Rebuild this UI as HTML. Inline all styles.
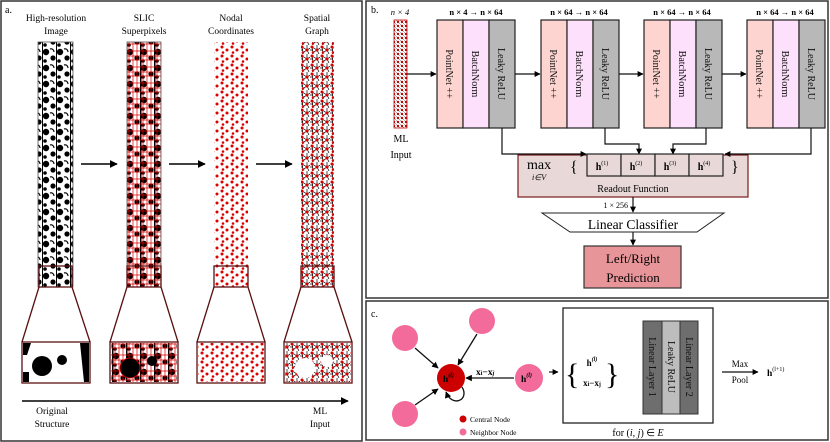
<!DOCTYPE html>
<html><head><meta charset="utf-8"><style>
body{margin:0;background:#fff}
svg{display:block;font-family:"Liberation Serif",serif}
</style></head><body>
<svg width="830" height="442" viewBox="0 0 830 442" xmlns="http://www.w3.org/2000/svg">
<defs>
<pattern id="p1" width="14" height="16" patternUnits="userSpaceOnUse">
<rect width="14" height="16" fill="#fff"/>
<circle cx="4" cy="4" r="3.2" fill="#000"/><circle cx="11" cy="10" r="2.6" fill="#000"/><circle cx="3" cy="13" r="1.8" fill="#000"/><path d="M8 1a3 3 0 0 1 4 3" stroke="#000" stroke-width="1.2" fill="none"/><rect x="0" y="0" width="1" height="16" fill="#000"/>
</pattern>
<pattern id="p2" width="14" height="16" patternUnits="userSpaceOnUse">
<rect width="14" height="16" fill="#fff"/>
<circle cx="4" cy="4" r="3.2" fill="#000"/><circle cx="11" cy="10" r="2.6" fill="#000"/><circle cx="3" cy="13" r="1.8" fill="#000"/><rect x="0" y="0" width="1.5" height="16" fill="#000"/>
<path d="M0 3H14M0 8H14M0 12H14M3 0V16M7 0V16M11 0V16" stroke="#d00" stroke-width="0.7"/>
</pattern>
<pattern id="p3" width="10" height="9" patternUnits="userSpaceOnUse">
<rect width="10" height="9" fill="#fff"/>
<circle cx="2" cy="2" r="1.5" fill="#d00"/><circle cx="7" cy="5" r="1.5" fill="#d00"/><circle cx="3" cy="7.5" r="1.3" fill="#d00"/>
</pattern>
<pattern id="p4" width="10" height="9" patternUnits="userSpaceOnUse">
<rect width="10" height="9" fill="#fff"/>
<path d="M2 2L7 5L3 7.5L2 2M7 5L12 2M3 7.5L2 11M7 5L9 9M0 5H3M7 5L7 0" stroke="#000" stroke-width="0.7" fill="none"/>
<circle cx="2" cy="2" r="1.5" fill="#d00"/><circle cx="7" cy="5" r="1.5" fill="#d00"/><circle cx="3" cy="7.5" r="1.3" fill="#d00"/>
</pattern>
<pattern id="p5" width="4" height="4" patternUnits="userSpaceOnUse">
<rect width="4" height="4" fill="#fff"/><circle cx="2" cy="2" r="1.2" fill="#c00"/><path d="M0 0L4 4" stroke="#333" stroke-width="0.4"/>
</pattern>
<marker id="ah" viewBox="0 0 10 10" refX="9" refY="5" markerWidth="5" markerHeight="5" orient="auto"><path d="M0 0L10 5L0 10z" fill="#000"/></marker>
</defs>

<!-- Panel a -->
<rect x="1" y="1" width="361" height="440" fill="#fff" stroke="#333" stroke-width="1.5"/>
<text x="5" y="13" font-size="10">a.</text>
<g font-size="9.5" text-anchor="middle">
<text x="56" y="21">High-resolution</text><text x="56" y="34">Image</text>
<text x="144" y="21">SLIC</text><text x="144" y="34">Superpixels</text>
<text x="231" y="21">Nodal</text><text x="231" y="34">Coordinates</text>
<text x="317" y="21">Spatial</text><text x="317" y="34">Graph</text>
</g>
<rect x="38" y="42" width="35" height="245" fill="url(#p1)" stroke="#555" stroke-width="0.8"/>
<rect x="127" y="42" width="34" height="245" fill="url(#p2)" stroke="#555" stroke-width="0.8"/>
<rect x="214" y="42" width="34" height="245" fill="url(#p3)"/>
<rect x="301" y="42" width="33" height="245" fill="url(#p4)"/>
<g fill="none" stroke="#5a1010" stroke-width="1.3">
<rect x="39" y="266" width="33" height="21"/><path d="M39 287L22 342M72 287L90 342"/><rect x="22" y="342" width="68" height="41"/>
<rect x="127" y="266" width="34" height="21"/><path d="M127 287L110 342M161 287L178 342"/><rect x="110" y="342" width="68" height="41"/>
<rect x="214" y="266" width="34" height="21"/><path d="M214 287L197 342M248 287L265 342"/><rect x="197" y="342" width="68" height="41"/>
<rect x="301" y="266" width="33" height="21"/><path d="M301 287L284 342M334 287L352 342"/><rect x="284" y="342" width="68" height="41"/>
</g>
<g>
<rect x="23" y="343" width="66" height="39" fill="#fff"/>
<circle cx="42" cy="366" r="10" fill="#000"/><circle cx="62" cy="360" r="5" fill="#000"/><path d="M23 343h8l-4 12h-4zM80 343h9v39h-5zM23 372h6v10h-6z" fill="#000"/>
<rect x="111" y="343" width="66" height="39" fill="url(#p2)"/>
<circle cx="130" cy="368" r="10" fill="#000" stroke="#d00" stroke-width="0.8"/><circle cx="152" cy="361" r="5" fill="#000"/>
<rect x="198" y="343" width="66" height="39" fill="url(#p3)"/>
<rect x="285" y="343" width="66" height="39" fill="url(#p4)"/>
<circle cx="305" cy="368" r="10" fill="#fff"/><circle cx="327" cy="361" r="6" fill="#fff"/>
</g>
<g stroke="#000" stroke-width="1.6" marker-end="url(#ah)">
<line x1="81" y1="164" x2="117" y2="164"/><line x1="169" y1="164" x2="205" y2="164"/><line x1="256" y1="164" x2="292" y2="164"/>
<line x1="22" y1="401" x2="348" y2="401"/>
</g>
<g font-size="9.5" text-anchor="middle">
<text x="52" y="414">Original</text><text x="52" y="427">Structure</text>
<text x="320" y="414">ML</text><text x="320" y="427">Input</text>
</g>

<!-- Panel b -->
<rect x="366" y="1" width="462" height="297" fill="#fff" stroke="#333" stroke-width="1.5"/>
<text x="371" y="13" font-size="10">b.</text>
<text x="400" y="15" font-size="8.5" text-anchor="middle" font-style="italic">n × 4</text>
<rect x="394" y="20" width="13" height="108" fill="url(#p5)" stroke="#c00" stroke-width="0.8"/>
<g font-size="10" text-anchor="middle"><text x="401" y="142">ML</text><text x="401" y="158">Input</text></g>
<g font-size="8.5" text-anchor="middle" font-weight="bold">
<text x="476" y="15">n × 4 → n × 64</text><text x="579" y="15">n × 64 → n × 64</text>
<text x="682" y="15">n × 64 → n × 64</text><text x="785" y="15">n × 64 → n × 64</text>
</g>
<g stroke="#222" stroke-width="1.2" font-size="10">
<g id="blk">
<rect x="437" y="20" width="26" height="108" fill="#fdd4cf"/>
<rect x="463" y="20" width="26" height="108" fill="#fde0fc"/>
<rect x="489" y="20" width="26" height="108" fill="#b8b8b8"/>
<g stroke="none" fill="#111" text-anchor="middle">
<text transform="translate(446,74) rotate(90)">PointNet ++</text>
<text transform="translate(472,74) rotate(90)">BatchNorm</text>
<text transform="translate(498,74) rotate(90)">Leaky ReLU</text>
</g>
</g>
<use href="#blk" x="104"/><use href="#blk" x="207"/><use href="#blk" x="310"/>
</g>
<g stroke="#111" stroke-width="1.2" fill="none" marker-end="url(#ah)">
<line x1="407" y1="74" x2="436" y2="74"/><line x1="515" y1="74" x2="540" y2="74"/>
<line x1="619" y1="74" x2="643" y2="74"/><line x1="722" y1="74" x2="746" y2="74"/>
</g>
<rect x="518" y="155" width="230" height="42" fill="#e8d9d8" stroke="#7a1a1a" stroke-width="1.2"/>
<g stroke="#111" stroke-width="1.2" fill="none" marker-end="url(#ah)">
<path d="M502 128V154H586"/><path d="M605 128V144H639V154"/><path d="M706 128V144H673V154"/><path d="M811 128V154H725"/>
</g>
<g stroke="#222" stroke-width="1.2" fill="#e8d9d8">
<rect x="587" y="154" width="34" height="22"/><rect x="621" y="154" width="34" height="22"/>
<rect x="655" y="154" width="34" height="22"/><rect x="689" y="154" width="34" height="22"/>
</g>
<g font-size="10" font-weight="bold" text-anchor="middle">
<text x="602" y="170">h<tspan font-size="6" font-weight="normal" dy="-5">(1)</tspan></text>
<text x="636" y="170">h<tspan font-size="6" font-weight="normal" dy="-5">(2)</tspan></text>
<text x="670" y="170">h<tspan font-size="6" font-weight="normal" dy="-5">(3)</tspan></text>
<text x="704" y="170">h<tspan font-size="6" font-weight="normal" dy="-5">(4)</tspan></text>
</g>
<text x="527" y="169" font-size="14">max</text>
<text x="532" y="180" font-size="8" font-style="italic">i∈V</text>
<text x="570" y="172" font-size="16">{</text><text x="731" y="172" font-size="16">}</text>
<text x="633" y="192" font-size="10" text-anchor="middle">Readout Function</text>
<g stroke="#111" stroke-width="1.2" marker-end="url(#ah)">
<line x1="633" y1="197" x2="633" y2="212"/><line x1="633" y1="232" x2="633" y2="245"/>
</g>
<text x="628" y="208" font-size="8" text-anchor="end">1 × 256</text>
<path d="M542 213H724L697 232H570Z" fill="#fff" stroke="#222" stroke-width="1"/>
<text x="633" y="229" font-size="13.5" text-anchor="middle">Linear Classifier</text>
<rect x="584" y="246" width="97" height="42" fill="#e8959a" stroke="#333" stroke-width="1.2"/>
<g font-size="13" text-anchor="middle"><text x="633" y="263">Left/Right</text><text x="633" y="282">Prediction</text></g>

<!-- Panel c -->
<rect x="366" y="301" width="462" height="139" fill="#fff" stroke="#333" stroke-width="1.5"/>
<text x="371" y="317" font-size="10">c.</text>
<g fill="#f26b9a">
<circle cx="405" cy="338" r="13"/><circle cx="482" cy="321" r="13"/><circle cx="405" cy="414" r="13"/><circle cx="529" cy="378" r="14"/>
</g>
<g stroke="#111" stroke-width="1.3" fill="none" marker-end="url(#ah)">
<line x1="415" y1="348" x2="438" y2="368"/><line x1="477" y1="334" x2="458" y2="365"/>
<line x1="415" y1="405" x2="438" y2="389"/><line x1="514" y1="378" x2="466" y2="378"/>
<path d="M462 387C470 400 452 408 446 392"/>
</g>
<circle cx="451" cy="378" r="14" fill="#cc0000"/>
<g font-weight="bold" font-size="9.5">
<text x="443" y="382">h<tspan font-size="6" dy="-5" font-style="italic">(l)</tspan></text>
<text x="521" y="382">h<tspan font-size="6" dy="-5" font-style="italic">(l)</tspan></text>
<text x="476" y="375">x<tspan font-size="6">i</tspan>−x<tspan font-size="6" font-style="italic">j</tspan></text>
</g>
<circle cx="463" cy="419" r="3.5" fill="#cc0000"/><circle cx="463" cy="432" r="3.5" fill="#f26b9a"/>
<g font-size="7.5"><text x="470" y="422">Central Node</text><text x="470" y="435">Neighbor Node</text></g>
<g stroke="#111" stroke-width="1.2" marker-end="url(#ah)">
<line x1="549" y1="372" x2="558" y2="372"/><line x1="620" y1="372" x2="630" y2="372"/><line x1="722" y1="372" x2="758" y2="372"/>
</g>
<rect x="563" y="308" width="150" height="115" fill="#fff" stroke="#222" stroke-width="1.3"/>
<text x="565" y="384" font-size="30" font-weight="100">{</text><text x="605" y="384" font-size="30">}</text>
<g font-size="9" font-weight="bold" text-anchor="middle">
<text x="592" y="366">h<tspan font-size="6" dy="-5" font-style="italic">(l)</tspan></text>
<text x="592" y="386">x<tspan font-size="6">i</tspan>−x<tspan font-size="6">j</tspan></text>
</g>
<rect x="643" y="321" width="19" height="93" fill="#6e6e6e" stroke="#333"/>
<rect x="662" y="321" width="18" height="93" fill="#bdbdbd" stroke="#333"/>
<rect x="680" y="321" width="18" height="93" fill="#6e6e6e" stroke="#333"/>
<g font-size="10" fill="#111" text-anchor="middle">
<text transform="translate(649,367) rotate(90)">Linear Layer 1</text>
<text transform="translate(668,367) rotate(90)">Leaky ReLU</text>
<text transform="translate(686,367) rotate(90)">Linear Layer 2</text>
</g>
<text x="638" y="436" font-size="10" text-anchor="middle">for (<tspan font-style="italic">i, j</tspan>) ∈ <tspan font-style="italic">E</tspan></text>
<g font-size="9" text-anchor="middle"><text x="740" y="367">Max</text><text x="740" y="383">Pool</text></g>
<text x="767" y="376" font-size="9.5" font-weight="bold">h<tspan font-size="6" font-weight="normal" dy="-5">(l+1)</tspan></text>
</svg>
</body></html>
